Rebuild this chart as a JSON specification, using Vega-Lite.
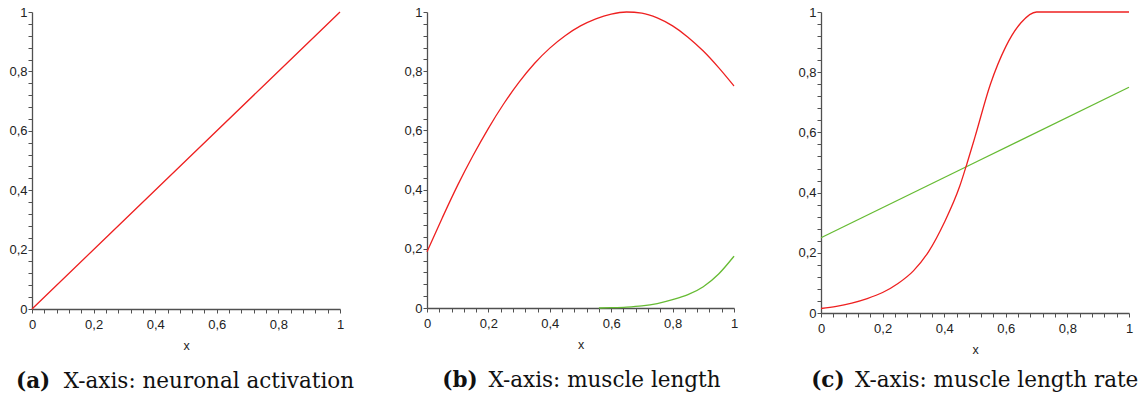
{
  "$schema": "https://vega.github.io/schema/vega-lite/v6.json",
  "background": "white",
  "padding": {"left": 8, "top": 6, "right": 4, "bottom": 4},
  "datasets": {
    "a_red": [
      {"x": 0, "y": 0}, {"x": 0.25, "y": 0.25}, {"x": 0.5, "y": 0.5}, {"x": 0.75, "y": 0.75}, {"x": 1, "y": 1}
    ],
    "b_red": [
      {"x": 0, "y": 0.19}, {"x": 0.05, "y": 0.305}, {"x": 0.1, "y": 0.415}, {"x": 0.15, "y": 0.515},
      {"x": 0.2, "y": 0.607}, {"x": 0.25, "y": 0.69}, {"x": 0.3, "y": 0.763}, {"x": 0.35, "y": 0.826},
      {"x": 0.4, "y": 0.878}, {"x": 0.45, "y": 0.92}, {"x": 0.5, "y": 0.953}, {"x": 0.55, "y": 0.977},
      {"x": 0.6, "y": 0.993}, {"x": 0.65, "y": 1.0}, {"x": 0.7, "y": 0.996}, {"x": 0.75, "y": 0.98},
      {"x": 0.8, "y": 0.953}, {"x": 0.85, "y": 0.915}, {"x": 0.9, "y": 0.868}, {"x": 0.95, "y": 0.812},
      {"x": 1.0, "y": 0.75}
    ],
    "b_green": [
      {"x": 0.56, "y": 0}, {"x": 0.6, "y": 0.001}, {"x": 0.65, "y": 0.003}, {"x": 0.7, "y": 0.007},
      {"x": 0.75, "y": 0.015}, {"x": 0.8, "y": 0.028}, {"x": 0.85, "y": 0.045}, {"x": 0.9, "y": 0.072},
      {"x": 0.95, "y": 0.115}, {"x": 1.0, "y": 0.175}
    ],
    "c_red": [
      {"x": 0, "y": 0.015}, {"x": 0.05, "y": 0.022}, {"x": 0.1, "y": 0.033}, {"x": 0.15, "y": 0.048},
      {"x": 0.2, "y": 0.068}, {"x": 0.25, "y": 0.098}, {"x": 0.3, "y": 0.14}, {"x": 0.35, "y": 0.205},
      {"x": 0.4, "y": 0.3}, {"x": 0.45, "y": 0.42}, {"x": 0.475, "y": 0.5}, {"x": 0.5, "y": 0.585},
      {"x": 0.55, "y": 0.76}, {"x": 0.6, "y": 0.885}, {"x": 0.65, "y": 0.965}, {"x": 0.7, "y": 1.0},
      {"x": 0.85, "y": 1.0}, {"x": 1.0, "y": 1.0}
    ],
    "c_green": [
      {"x": 0, "y": 0.25}, {"x": 0.5, "y": 0.5}, {"x": 1, "y": 0.75}
    ],
    "one": [{}]
  },
  "config": {
    "view": {"stroke": null},
    "axis": {
      "grid": false,
      "domainColor": "#505050",
      "domainWidth": 1.3,
      "tickColor": "#505050",
      "tickSize": 4,
      "tickCount": 40,
      "labelColor": "#222222",
      "labelFont": "Liberation Sans",
      "labelFontSize": 13,
      "labelOverlap": false,
      "labelFlush": false,
      "titleFont": "Liberation Sans",
      "titleFontSize": 12.5,
      "titleFontWeight": "normal",
      "titleColor": "#222222"
    },
    "axisX": {"labelPadding": 5, "titlePadding": 8},
    "axisY": {"labelPadding": 1}
  },
  "spacing": 87,
  "bounds": "flush",
  "hconcat": [
    {
      "width": 308,
      "height": 297,
      "layer": [
        {
          "data": {"name": "a_red"},
          "mark": {"type": "line", "color": "#ee2020", "strokeWidth": 1.3},
          "encoding": {
            "x": {"field": "x", "type": "quantitative", "title": "x", "scale": {"domain": [0, 1], "nice": false},
              "axis": {"tickCount": 40, "values": [0,0.04,0.08,0.12,0.16,0.2,0.24,0.28,0.32,0.36,0.4,0.44,0.48,0.52,0.56,0.6,0.64,0.68,0.72,0.76,0.8,0.84,0.88,0.92,0.96,1],
                "labelExpr": "abs(datum.value*5 - round(datum.value*5)) < 0.001 ? replace(format(datum.value, '.1~f'), '.', ',') : ''"}},
            "y": {"field": "y", "type": "quantitative", "title": null, "scale": {"domain": [0, 1], "nice": false},
              "axis": {"tickCount": 40, "values": [0,0.04,0.08,0.12,0.16,0.2,0.24,0.28,0.32,0.36,0.4,0.44,0.48,0.52,0.56,0.6,0.64,0.68,0.72,0.76,0.8,0.84,0.88,0.92,0.96,1],
                "labelExpr": "abs(datum.value*5 - round(datum.value*5)) < 0.001 ? replace(format(datum.value, '.1~f'), '.', ',') : ''"}}
          }
        },
        {
          "data": {"name": "one"},
          "mark": {"type": "text", "font": "DejaVu Serif", "fontSize": 21.5, "fontWeight": "bold", "align": "left", "baseline": "alphabetic", "color": "#111111"},
          "encoding": {
            "x": {"datum": -0.052, "type": "quantitative", "title": "x"},
            "y": {"datum": -0.265, "type": "quantitative", "title": null},
            "text": {"value": "(a)"}
          }
        },
        {
          "data": {"name": "one"},
          "mark": {"type": "text", "font": "DejaVu Serif", "fontSize": 21.5, "align": "left", "baseline": "alphabetic", "color": "#111111"},
          "encoding": {
            "x": {"datum": 0.103, "type": "quantitative", "title": "x"},
            "y": {"datum": -0.265, "type": "quantitative", "title": null},
            "text": {"value": "X-axis: neuronal activation"}
          }
        }
      ]
    },
    {
      "width": 307,
      "height": 296,
      "layer": [
        {
          "data": {"name": "b_red"},
          "mark": {"type": "line", "color": "#ee2020", "strokeWidth": 1.3, "interpolate": "monotone"},
          "encoding": {
            "x": {"field": "x", "type": "quantitative", "title": "x", "scale": {"domain": [0, 1], "nice": false},
              "axis": {"tickCount": 40, "values": [0,0.04,0.08,0.12,0.16,0.2,0.24,0.28,0.32,0.36,0.4,0.44,0.48,0.52,0.56,0.6,0.64,0.68,0.72,0.76,0.8,0.84,0.88,0.92,0.96,1],
                "labelExpr": "abs(datum.value*5 - round(datum.value*5)) < 0.001 ? replace(format(datum.value, '.1~f'), '.', ',') : ''"}},
            "y": {"field": "y", "type": "quantitative", "title": null, "scale": {"domain": [0, 1], "nice": false},
              "axis": {"tickCount": 40, "values": [0,0.04,0.08,0.12,0.16,0.2,0.24,0.28,0.32,0.36,0.4,0.44,0.48,0.52,0.56,0.6,0.64,0.68,0.72,0.76,0.8,0.84,0.88,0.92,0.96,1],
                "labelExpr": "abs(datum.value*5 - round(datum.value*5)) < 0.001 ? replace(format(datum.value, '.1~f'), '.', ',') : ''"}}
          }
        },
        {
          "data": {"name": "b_green"},
          "mark": {"type": "line", "color": "#66bb33", "strokeWidth": 1.3, "interpolate": "monotone"},
          "encoding": {
            "x": {"field": "x", "type": "quantitative", "title": "x"},
            "y": {"field": "y", "type": "quantitative", "title": null}
          }
        },
        {
          "data": {"name": "one"},
          "mark": {"type": "text", "font": "DejaVu Serif", "fontSize": 21.5, "fontWeight": "bold", "align": "left", "baseline": "alphabetic", "color": "#111111"},
          "encoding": {
            "x": {"datum": 0.05, "type": "quantitative", "title": "x"},
            "y": {"datum": -0.268, "type": "quantitative", "title": null},
            "text": {"value": "(b)"}
          }
        },
        {
          "data": {"name": "one"},
          "mark": {"type": "text", "font": "DejaVu Serif", "fontSize": 21.5, "align": "left", "baseline": "alphabetic", "color": "#111111"},
          "encoding": {
            "x": {"datum": 0.2, "type": "quantitative", "title": "x"},
            "y": {"datum": -0.268, "type": "quantitative", "title": null},
            "text": {"value": "X-axis: muscle length"}
          }
        }
      ]
    },
    {
      "width": 308,
      "height": 301,
      "layer": [
        {
          "data": {"name": "c_green"},
          "mark": {"type": "line", "color": "#66bb33", "strokeWidth": 1.3},
          "encoding": {
            "x": {"field": "x", "type": "quantitative", "title": "x", "scale": {"domain": [0, 1], "nice": false},
              "axis": {"tickCount": 40, "values": [0,0.04,0.08,0.12,0.16,0.2,0.24,0.28,0.32,0.36,0.4,0.44,0.48,0.52,0.56,0.6,0.64,0.68,0.72,0.76,0.8,0.84,0.88,0.92,0.96,1],
                "labelExpr": "abs(datum.value*5 - round(datum.value*5)) < 0.001 ? replace(format(datum.value, '.1~f'), '.', ',') : ''"}},
            "y": {"field": "y", "type": "quantitative", "title": null, "scale": {"domain": [0, 1], "nice": false},
              "axis": {"tickCount": 40, "values": [0,0.04,0.08,0.12,0.16,0.2,0.24,0.28,0.32,0.36,0.4,0.44,0.48,0.52,0.56,0.6,0.64,0.68,0.72,0.76,0.8,0.84,0.88,0.92,0.96,1],
                "labelExpr": "abs(datum.value*5 - round(datum.value*5)) < 0.001 ? replace(format(datum.value, '.1~f'), '.', ',') : ''"}}
          }
        },
        {
          "data": {"name": "c_red"},
          "mark": {"type": "line", "color": "#ee2020", "strokeWidth": 1.3, "interpolate": "monotone"},
          "encoding": {
            "x": {"field": "x", "type": "quantitative", "title": "x"},
            "y": {"field": "y", "type": "quantitative", "title": null}
          }
        },
        {
          "data": {"name": "one"},
          "mark": {"type": "text", "font": "DejaVu Serif", "fontSize": 21.5, "fontWeight": "bold", "align": "left", "baseline": "alphabetic", "color": "#111111"},
          "encoding": {
            "x": {"datum": -0.032, "type": "quantitative", "title": "x"},
            "y": {"datum": -0.247, "type": "quantitative", "title": null},
            "text": {"value": "(c)"}
          }
        },
        {
          "data": {"name": "one"},
          "mark": {"type": "text", "font": "DejaVu Serif", "fontSize": 21.5, "align": "left", "baseline": "alphabetic", "color": "#111111"},
          "encoding": {
            "x": {"datum": 0.11, "type": "quantitative", "title": "x"},
            "y": {"datum": -0.247, "type": "quantitative", "title": null},
            "text": {"value": "X-axis: muscle length rate"}
          }
        }
      ]
    }
  ]
}
